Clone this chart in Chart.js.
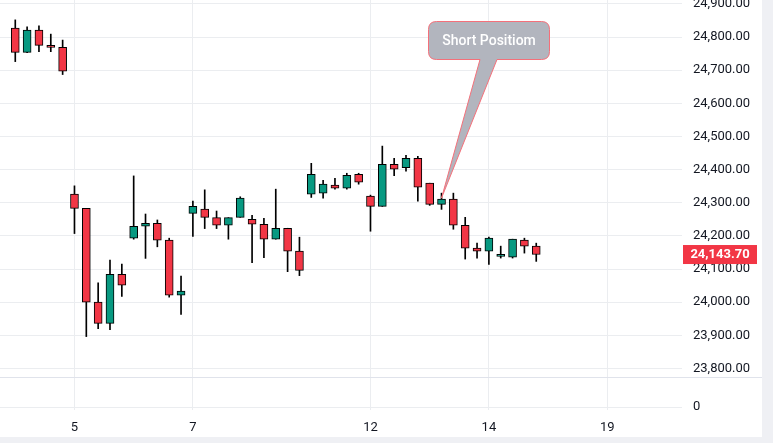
<!DOCTYPE html>
<html lang="en">
<head>
    <meta charset="UTF-8">
    <title>Candles</title>
    <script src="https://cdn.jsdelivr.net/npm/chart.js"></script>
    <style>
        body { margin: 0; background: #eff0f4; }
        #wrap { width: 762px; height: 437px; background: #fff; }
    </style>
</head>
<body>
    <div id="wrap"><canvas id="priceChart" width="762" height="437"></canvas></div>

    <script>
        // OHLC per bar (5 bars a day)
        const opens = [
            24827, 24754, 24821, 24775, 24769,
            24326, 24283, 24000, 23936, 24084,
            24193, 24229, 24238, 24187, 24021,
            24268, 24281, 24255, 24232, 24256,
            24250, 24235, 24190, 24223, 24154,
            24326, 24329, 24353, 24344, 24386,
            24320, 24289, 24416, 24406, 24434,
            24359, 24295, 24311, 24232, 24163,
            24154, 24138, 24136, 24187, 24169
        ];
        const highs = [
            24852, 24831, 24834, 24809, 24791,
            24351, 24280, 24058, 24127, 24115,
            24381, 24266, 24248, 24193, 24079,
            24305, 24339, 24275, 24255, 24318,
            24262, 24253, 24341, 24223, 24196,
            24419, 24368, 24374, 24389, 24389,
            24323, 24471, 24434, 24443, 24440,
            24359, 24329, 24329, 24256, 24178,
            24196, 24169, 24190, 24193, 24178
        ];
        const lows = [
            24726, 24753, 24756, 24756, 24687,
            24207, 23896, 23920, 23917, 24017,
            24190, 24132, 24167, 24015, 23963,
            24198, 24222, 24222, 24190, 24256,
            24119, 24134, 24190, 24092, 24080,
            24316, 24314, 24341, 24341, 24356,
            24214, 24289, 24382, 24395, 24305,
            24292, 24280, 24220, 24130, 24133,
            24114, 24133, 24133, 24148, 24123
        ];
        const closes = [
            24754, 24821, 24775, 24769, 24697,
            24283, 24000, 23936, 24084, 24051,
            24229, 24238, 24187, 24021, 24033,
            24289, 24256, 24232, 24255, 24314,
            24235, 24190, 24223, 24154, 24096,
            24386, 24356, 24344, 24383, 24362,
            24289, 24416, 24401, 24434, 24347,
            24295, 24311, 24232, 24163, 24154,
            24193, 24140, 24190, 24169, 24143.7
        ];

        // x axis: bar index of each day label
        const dayTicks = [5, 15, 30, 40, 50];
        const dayLabels = ['5', '7', '12', '14', '19'];
        const priceTicks = [23800, 23900, 24000, 24100, 24200, 24300, 24400, 24500, 24600, 24700, 24800, 24900];

        const noteText = 'Short Positiom';
        const noteBar = 36;

        const UP = '#089981';
        const DOWN = '#f23645';
        const GRID = '#ebedf0';
        const TEXT = '#131722';
        const axisFont = { family: 'Roboto', size: 13 };

        const fmt = v => v.toLocaleString('en-US', { minimumFractionDigits: 2, maximumFractionDigits: 2 });

        const idx = opens.map((_, i) => i);
        const bodyColors = idx.map(i => closes[i] >= opens[i] ? UP : DOWN);

        const noPad = s => { s.paddingTop = 0; s.paddingBottom = 0; s.paddingLeft = 0; s.paddingRight = 0; };

        // separator between panes, last price tag, callout
        const extras = {
            id: 'extras',
            afterDraw(chart) {
                const c = chart.ctx;
                const y = chart.scales.y;
                const x = chart.scales.x;

                c.save();
                c.strokeStyle = '#e0e3eb';
                c.lineWidth = 1;
                c.beginPath();
                c.moveTo(0, Math.round(y.bottom) + 0.5);
                c.lineTo(chart.width, Math.round(y.bottom) + 0.5);
                c.stroke();

                // last price tag
                const last = closes[closes.length - 1];
                const py = y.getPixelForValue(last);
                c.fillStyle = DOWN;
                c.fillRect(683, py - 9.5, 74, 19);
                c.fillStyle = '#fff';
                c.font = 'bold 13px Roboto';
                c.textAlign = 'center';
                c.textBaseline = 'middle';
                c.fillText(fmt(last), 720, py + 0.5);

                // callout
                const tipX = x.getPixelForValue(noteBar);
                const tipY = y.getPixelForValue(closes[noteBar]) - 1;
                const l = 428.5, r = 549.5, t = 21.5, b = 59.5, rad = 8;
                c.beginPath();
                c.moveTo(l + rad, t);
                c.lineTo(r - rad, t);
                c.quadraticCurveTo(r, t, r, t + rad);
                c.lineTo(r, b - rad);
                c.quadraticCurveTo(r, b, r - rad, b);
                c.lineTo(497, b);
                c.lineTo(tipX, tipY);
                c.lineTo(480, b);
                c.lineTo(l + rad, b);
                c.quadraticCurveTo(l, b, l, b - rad);
                c.lineTo(l, t + rad);
                c.quadraticCurveTo(l, t, l + rad, t);
                c.closePath();
                c.fillStyle = '#b2b5be';
                c.fill();
                c.strokeStyle = '#f4707a';
                c.lineWidth = 1;
                c.stroke();
                c.fillStyle = '#fff';
                c.font = '500 14px Roboto';
                c.fillText(noteText, 489, 41);
                c.restore();
            }
        };

        new Chart(document.getElementById('priceChart').getContext('2d'), {
            type: 'bar',
            data: {
                datasets: [
                    {
                        label: 'body',
                        data: idx.map(i => ({ x: i, y: [opens[i], closes[i]] })),
                        backgroundColor: bodyColors,
                        borderColor: '#000',
                        borderWidth: 1,
                        borderSkipped: false,
                        barThickness: 8,
                        minBarLength: 2,
                        grouped: false,
                        order: 0
                    },
                    {
                        label: 'wick',
                        data: idx.map(i => ({ x: i, y: [lows[i], highs[i]] })),
                        backgroundColor: '#000',
                        borderWidth: 0,
                        barThickness: 1,
                        grouped: false,
                        order: 1
                    }
                ]
            },
            options: {
                responsive: false,
                animation: false,
                devicePixelRatio: 1,
                layout: { padding: 0 },
                plugins: { legend: { display: false }, tooltip: { enabled: false } },
                scales: {
                    x: {
                        type: 'linear',
                        min: -1.29,
                        max: 56.31,
                        offset: false,
                        grid: { offset: false, color: GRID, drawTicks: false },
                        border: { display: false },
                        afterBuildTicks: s => { s.ticks = dayTicks.map(v => ({ value: v })); },
                        ticks: {
                            autoSkip: false,
                            maxRotation: 0,
                            padding: 10,
                            color: TEXT,
                            font: axisFont,
                            callback: v => dayLabels[dayTicks.indexOf(v)]
                        },
                        afterFit: s => { noPad(s); s.height = 27; }
                    },
                    y: {
                        position: 'right',
                        stack: 'panes',
                        stackWeight: 377,
                        min: 23774,
                        max: 24912,
                        grid: { color: GRID, drawTicks: false },
                        border: { display: false },
                        afterBuildTicks: s => { s.ticks = priceTicks.map(v => ({ value: v })); },
                        ticks: { autoSkip: false, padding: 11, color: TEXT, font: axisFont, callback: v => fmt(v) },
                        afterFit: s => { noPad(s); s.width = 80; }
                    },
                    y2: {
                        position: 'right',
                        stack: 'panes',
                        stackWeight: 33,
                        min: -0.1,
                        max: 1,
                        grid: { color: GRID, drawTicks: false },
                        border: { display: false },
                        afterBuildTicks: s => { s.ticks = [{ value: 0 }]; },
                        ticks: { autoSkip: false, padding: 11, color: TEXT, font: axisFont, callback: () => '0' },
                        afterFit: s => { noPad(s); s.width = 80; }
                    }
                }
            },
            plugins: [extras]
        });
    </script>
</body>
</html>
